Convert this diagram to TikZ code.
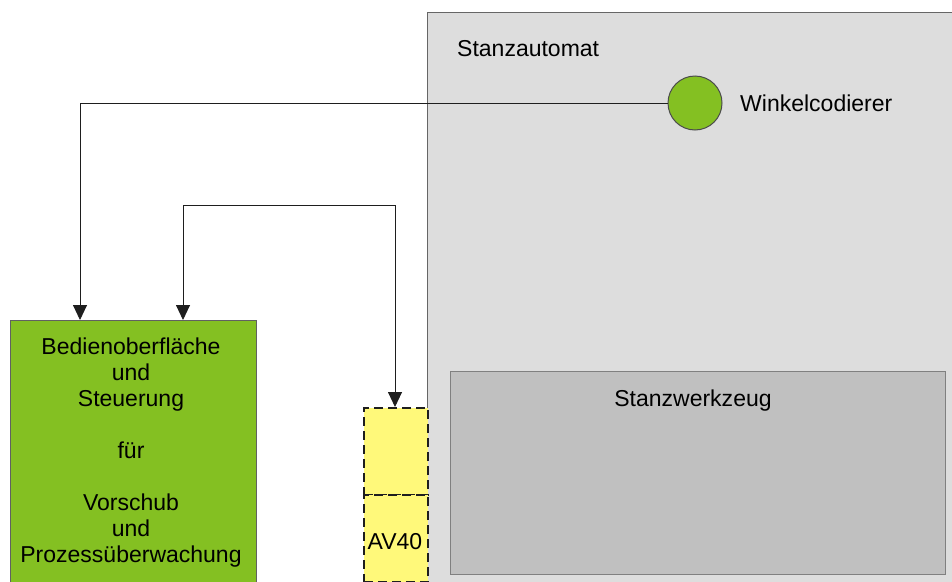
\documentclass[tikz,border=0pt]{standalone}
\usepackage{fontspec}
\setmainfont{Liberation Sans}
\usetikzlibrary{arrows.meta}
\definecolor{machgray}{HTML}{DDDDDD}
\definecolor{toolgray}{HTML}{C0C0C0}
\definecolor{ctrlgreen}{HTML}{84C022}
\definecolor{avyellow}{HTML}{FFF97A}
\definecolor{linecol}{HTML}{1E1E1E}
\tikzset{
  arr/.style={draw=linecol, line width=0.9pt, -{Triangle[width=14pt,length=15pt]}},
  arrboth/.style={draw=linecol, line width=0.9pt, {Triangle[width=14pt,length=15pt]}-{Triangle[width=14pt,length=15pt]}},
  lbl/.style={font=\fontsize{23pt}{26pt}\selectfont, text=black, inner sep=0pt},
  avbox/.style={draw=linecol, fill=avyellow, line width=2.2pt, dash pattern=on 9pt off 5pt, minimum width=64pt, minimum height=87pt, inner sep=0pt, anchor=north west},
}
\begin{document}
\begin{tikzpicture}[x=1pt,y=-1pt]
\useasboundingbox (0,0) rectangle (952,581);
\clip (0,0) rectangle (952,581);
% machine
\node[draw=gray!80!black, fill=machgray, line width=0.8pt, minimum width=530pt, minimum height=600pt, anchor=north west, inner sep=0pt] (mach) at (427,12) {};
\node[lbl, anchor=base west] (machlbl) at (457,56) {Stanzautomat};
% encoder
\node[circle, draw=linecol!80, fill=ctrlgreen, line width=1pt, minimum size=54pt, inner sep=0pt] (wc) at (695,103) {};
\node[lbl, anchor=west] (wclbl) at (740,103) {Winkelcodierer};
% tool
\node[draw=gray, fill=toolgray, line width=0.9pt, minimum width=495pt, minimum height=203pt, anchor=north west, inner sep=0pt] (tool) at (450,371) {};
\node[lbl, anchor=base] (toollbl) at (693,406) {Stanzwerkzeug};
% control
\node[draw=linecol!70, fill=ctrlgreen, line width=0.8pt, minimum width=246pt, minimum height=300pt, anchor=north west, inner sep=0pt] (ctrl) at (10,320) {};
\node[lbl, align=center, anchor=north] (ctrllbl) at (131,338) {Bedienoberfläche\\und\\Steuerung\\[26pt]für\\[26pt]Vorschub\\und\\Prozessüberwachung};
% AV40
\node[avbox] (av1) at (363,407) {};
\node[avbox] (av2) at (363,494) {};
\node[lbl, anchor=base] (avlbl) at (395,549) {AV40};
% connectors
\coordinate (c1) at (80,320);
\coordinate (c2) at (183,320);
\coordinate (c2up) at (183,205);
\coordinate (c3) at (395,407);
\draw[arr] (wc.west) -| (c1);
\draw[arrboth] (c2) -- (c2up) -| (c3);
\end{tikzpicture}
\end{document}
